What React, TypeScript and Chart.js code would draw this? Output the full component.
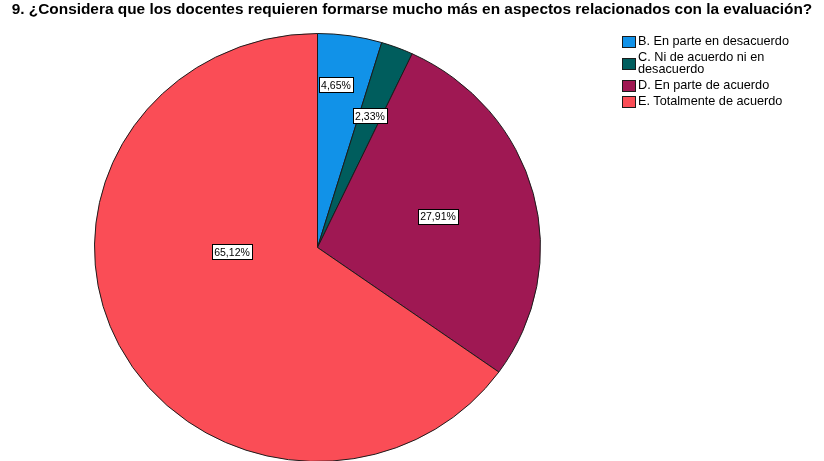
import React, { useEffect, useRef } from "react";
import { Chart, registerables } from "chart.js";

Chart.register(...registerables);

const TITLE =
  "9. ¿Considera que los docentes requieren formarse mucho más en aspectos relacionados con la evaluación?";
const categories = [
  "B. En parte en desacuerdo",
  "C. Ni de acuerdo ni en desacuerdo",
  "D. En parte de acuerdo",
  "E. Totalmente de acuerdo",
];
const values = [4.65, 2.33, 27.91, 65.12];
const valueLabels = ["4,65%", "2,33%", "27,91%", "65,12%"];
const colors = ["#1192e8", "#005d5d", "#9f1853", "#fa4d56"];

// label placement within each slice (fraction of slice angle, fraction of radius)
const labelAngleFrac = [0.37, 0.5, 0.496, 0.604];
const labelRadiusFrac = [0.766, 0.66, 0.56, 0.384];

const RX = 223;
const SY = 214 / 223;

const ellipsePlugin = {
  id: "ellipseAndLabels",
  beforeDatasetsDraw(chart: any) {
    const meta = chart.getDatasetMeta(0);
    const arc = meta.data[0];
    const ctx = chart.ctx;
    ctx.save();
    ctx.translate(arc.x, arc.y);
    ctx.scale(1, SY);
    ctx.translate(-arc.x, -arc.y);
  },
  afterDatasetsDraw(chart: any) {
    const ctx = chart.ctx;
    ctx.restore();
    const meta = chart.getDatasetMeta(0);
    ctx.save();
    ctx.font = "10.5px 'Liberation Sans', Arial, sans-serif";
    ctx.textAlign = "center";
    ctx.textBaseline = "middle";
    meta.data.forEach((el: any, i: number) => {
      const a = el.startAngle + labelAngleFrac[i] * (el.endAngle - el.startAngle);
      const r = el.outerRadius * labelRadiusFrac[i];
      const x = el.x + Math.cos(a) * r;
      const y = el.y + Math.sin(a) * r * SY;
      const text = valueLabels[i];
      const w = Math.round(ctx.measureText(text).width + 4);
      const h = 15;
      const bx = Math.round(x - w / 2) + 0.5;
      const by = Math.round(y - h / 2) + 0.5;
      ctx.fillStyle = "#ffffff";
      ctx.fillRect(bx, by, w, h);
      ctx.strokeStyle = "#000000";
      ctx.lineWidth = 1;
      ctx.strokeRect(bx, by, w, h);
      ctx.fillStyle = "#000000";
      ctx.fillText(text, Math.round(x), Math.round(y) + 1);
    });
    ctx.restore();
  },
};

export default function App() {
  const ref = useRef<HTMLCanvasElement>(null);
  useEffect(() => {
    if (!ref.current) return;
    const chart = new Chart(ref.current, {
      type: "pie",
      data: {
        labels: categories,
        datasets: [
          {
            data: values,
            backgroundColor: colors,
            borderColor: "#1a1a1a",
            borderWidth: 1,
          },
        ],
      },
      options: {
        animation: false,
        responsive: false,
        devicePixelRatio: 1,
        radius: RX,
        layout: { padding: { left: 0, right: 189, top: 34, bottom: 0 } },
        plugins: {
          legend: { display: false },
          title: { display: false },
          tooltip: { enabled: false },
        },
      } as any,
      plugins: [ellipsePlugin],
    });
    return () => chart.destroy();
  }, []);

  return (
    <div
      style={{
        position: "fixed",
        left: 0,
        top: 0,
        width: 824,
        height: 461,
        overflow: "hidden",
        background: "#ffffff",
        fontFamily: "'Liberation Sans', Arial, sans-serif",
      }}
    >
      <canvas ref={ref} width={824} height={461} style={{ position: "absolute", left: 0, top: 0 }} />
      <div
        style={{
          position: "absolute",
          left: 0,
          top: 0,
          width: 824,
          textAlign: "center",
          fontWeight: "bold",
          fontSize: 15.4,
          lineHeight: "18px",
          color: "#000",
          whiteSpace: "nowrap",
        }}
      >
        {TITLE}
      </div>
      <div style={{ position: "absolute", left: 622, top: 36, fontSize: 12.7, color: "#000" }}>
        {categories.map((c, i) => (
          <div key={c} style={{ display: "flex", alignItems: "center", marginBottom: 4.3 }}>
            <div
              style={{
                width: 12,
                height: 10,
                background: colors[i],
                border: "1px solid #1a1a1a",
                marginRight: 2,
                flexShrink: 0,
              }}
            />
            <div style={{ width: 158, lineHeight: "11.5px" }}>{c}</div>
          </div>
        ))}
      </div>
    </div>
  );
}
